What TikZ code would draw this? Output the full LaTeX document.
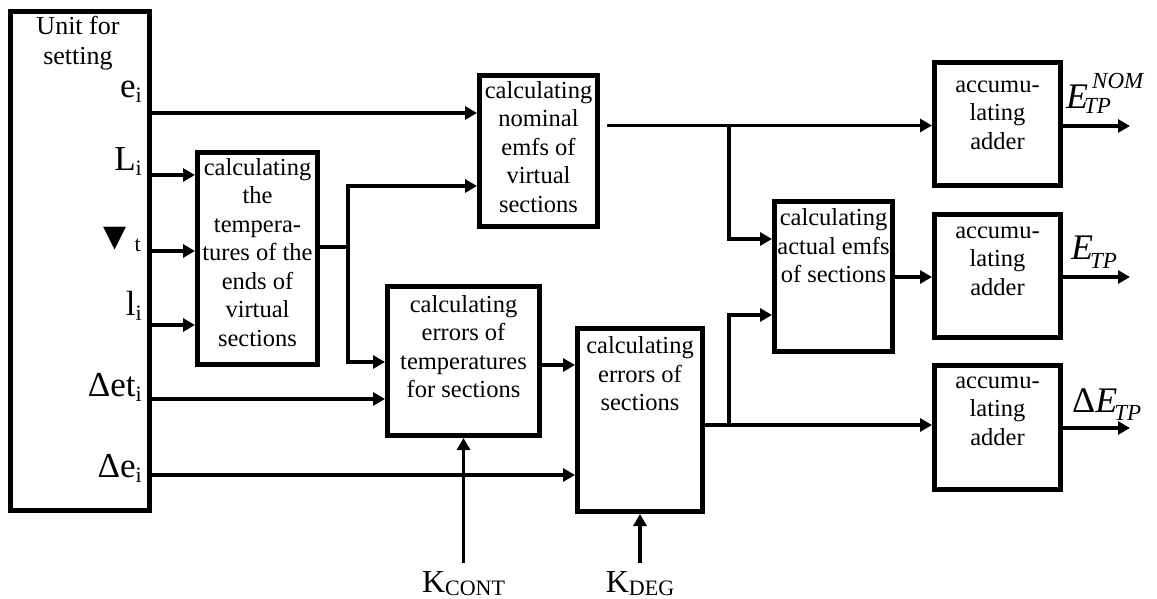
\documentclass[tikz,border=0pt]{standalone}
\usepackage{fontspec}
\setmainfont{Liberation Serif}
\newfontfamily\dejavu{DejaVu Sans}
\usetikzlibrary{arrows.meta,calc}
\newcommand\lowsub[2][5pt]{\raisebox{-#1}{\fontsize{22}{22}\selectfont #2}}
\begin{document}
\begin{tikzpicture}[x=1pt,y=-1pt,
  blk/.style={draw, line width=5pt, rectangle, inner sep=0pt},
  txt/.style={align=center, font=\fontsize{24.5}{28.5}\selectfont, inner sep=0pt},
  lab/.style={anchor=base east, inner sep=0pt, font=\fontsize{35}{35}\selectfont},
  outlab/.style={anchor=base west, inner sep=0pt, font=\fontsize{36}{36}\selectfont\itshape},
  klab/.style={anchor=base, inner sep=0pt, font=\fontsize{32}{32}\selectfont},
  ln/.style={line width=3.5pt},
  arr/.style={line width=3.5pt, -{Triangle[length=12pt,width=13pt]}}]
\useasboundingbox (0,0) rectangle (1157,599);

% unit for setting
\node[blk, minimum width=139pt, minimum height=499pt] (unit) at (80,261) {};
\node[txt, font=\fontsize{26}{30}\selectfont] (unitT) at (78,43) {Unit for\\setting};
\node[lab] (lE) at (142,98) {e\lowsub{i}};
\node[lab] (lL) at (142,171) {L\lowsub{i}};
\node[lab] (lT) at (141,246) {{\dejavu\fontsize{30}{30}\selectfont ▼}\hspace{8pt}\lowsub{t}};
\node[lab] (lLo) at (142,315) {l\lowsub{i}};
\node[lab] (lDt) at (142,396) {Δet\lowsub{i}};
\node[lab] (lDe) at (142,477) {Δe\lowsub{i}};

% blocks
\node[blk, minimum width=120pt, minimum height=212pt] (b1) at (257.5,258.5) {};
\node[txt] (b1t) at (257.5,252.5) {calculating\\the\\tempera-\\tures of the\\ends of\\virtual\\sections};
\node[blk, minimum width=118pt, minimum height=151pt] (nom) at (538.5,151) {};
\node[txt] (nomt) at (538.5,147) {calculating\\nominal\\emfs of\\virtual\\sections};
\node[blk, minimum width=152pt, minimum height=149pt] (b2) at (463.5,361) {};
\node[txt] (b2t) at (463.5,346.5) {calculating\\errors of\\temperatures\\for sections};
\node[blk, minimum width=125pt, minimum height=183pt] (b3) at (640,420) {};
\node[txt] (b3t) at (640,374) {calculating\\errors of\\sections};
\node[blk, minimum width=118pt, minimum height=150pt] (act) at (833.5,276.5) {};
\node[txt] (actt) at (833.5,246) {calculating\\actual emfs\\of sections};
\node[blk, minimum width=126pt, minimum height=123pt] (a1) at (997.5,124) {};
\node[txt] (a1t) at (997.5,115) {accumu-\\lating\\adder};
\node[blk, minimum width=126pt, minimum height=123pt] (a2) at (997.5,276) {};
\node[txt] (a2t) at (997.5,261) {accumu-\\lating\\adder};
\node[blk, minimum width=126pt, minimum height=124pt] (a3) at (997.5,427.5) {};
\node[txt] (a3t) at (997.5,411) {accumu-\\lating\\adder};

% coefficient labels
\node[klab] (kc) at (463.5,592) {K\lowsub[3pt]{CONT}};
\node[klab] (kd) at (640,592) {K\lowsub[3pt]{DEG}};

% output labels
\node[outlab] (oN) at (1066,109) {E\rlap{\kern4pt\raisebox{20pt}{\fontsize{23}{23}\selectfont NOM}}\kern-4pt\raisebox{-5pt}{\fontsize{23}{23}\selectfont TP}};
\node[outlab] (oE) at (1071,259) {E\kern-3pt\raisebox{-9pt}{\fontsize{23}{23}\selectfont TP}};
\node[outlab] (oD) at (1072,412) {\textup{Δ}E\kern-3pt\raisebox{-8pt}{\fontsize{23}{23}\selectfont TP}};

% levels
\coordinate (yE) at (0,113);
\coordinate (yL) at (0,175);
\coordinate (yT) at (0,251);
\coordinate (yLo) at (0,325);
\coordinate (yDt) at (0,399);
\coordinate (yDe) at (0,475);
\coordinate (yN2) at (0,186);
\coordinate (yB2) at (0,362);
\coordinate (yB3) at (0,365);
\coordinate (yA1) at (0,239);
\coordinate (yA2) at (0,315);
\coordinate (j1) at (348,247);
\coordinate (j2) at (729,125.5);
\coordinate (j3) at (729,425);
\coordinate (o1) at (1130,126);
\coordinate (o2) at (1130,277);
\coordinate (o3) at (1130,428);

% connectors from unit
\draw[arr] (unit.east|-yE) -- (nom.west|-yE);
\draw[arr] (unit.east|-yL) -- (b1.west|-yL);
\draw[arr] (unit.east|-yT) -- (b1.west|-yT);
\draw[arr] (unit.east|-yLo) -- (b1.west|-yLo);
\draw[arr] (unit.east|-yDt) -- (b2.west|-yDt);
\draw[arr] (unit.east|-yDe) -- (b3.west|-yDe);

% b1 outputs
\draw[ln] (b1.east|-j1) -- (j1);
\draw[arr] (j1) |- (nom.west|-yN2);
\draw[arr] (j1) |- (b2.west|-yB2);

% b2 -> b3
\draw[arr] (b2.east|-yB3) -- (b3.west|-yB3);

% coefficients
\draw[arr] ([yshift=8pt]kc.north) -- (b2.south);
\draw[arr] ([yshift=8pt]kd.north) -- (b3.south);

% nominal output
\draw[arr] ($(nom.east|-j2)+(7,0)$) -- (a1.west|-j2);
\draw[arr] (j2) |- (act.west|-yA1);

% b3 output
\draw[arr] (b3.east|-j3) -- (a3.west|-j3);
\draw[arr] (j3) |- (act.west|-yA2);

% actual -> adder 2
\draw[arr] (act.east|-o2) -- (a2.west|-o2);

% outputs
\draw[arr] (a1.east|-o1) -- (o1);
\draw[arr] (a2.east|-o2) -- (o2);
\draw[arr] (a3.east|-o3) -- (o3);
\end{tikzpicture}
\end{document}
